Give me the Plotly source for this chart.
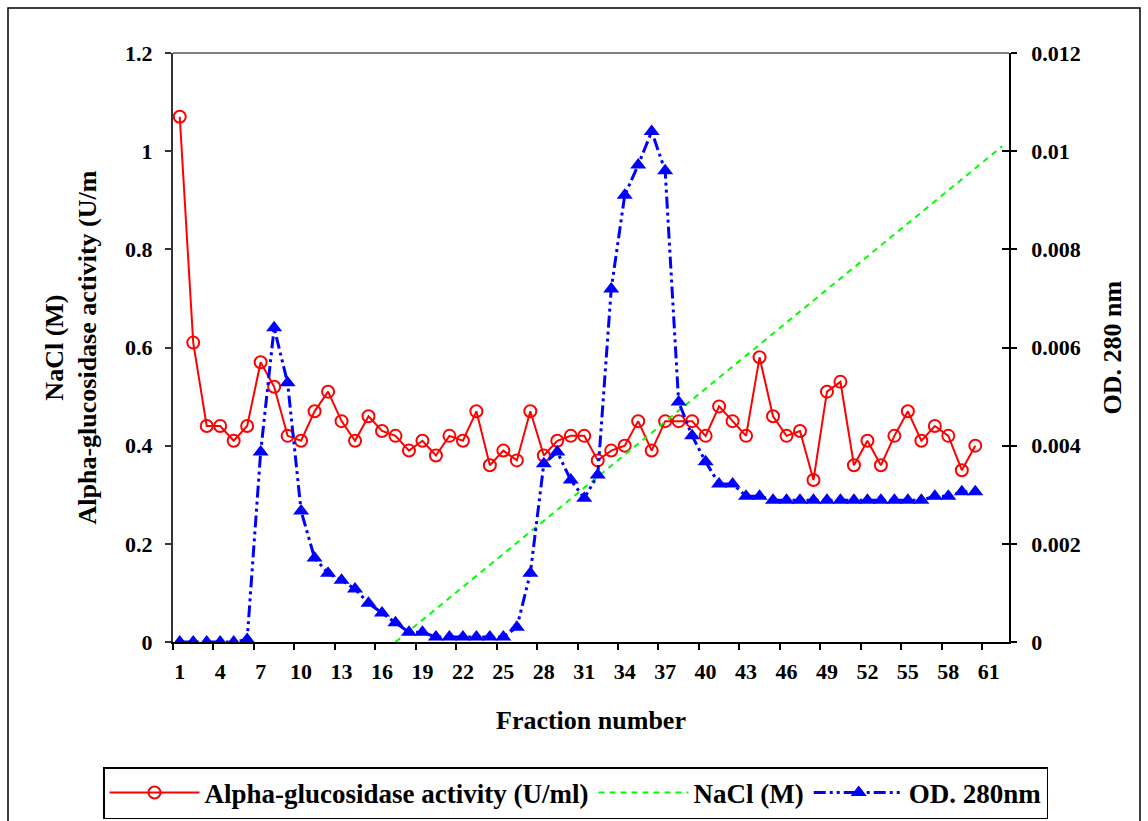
import plotly.graph_objects as go

# ---------------- data ----------------
fractions = list(range(1, 61))

alpha_glucosidase = [
    1.07, 0.61, 0.44, 0.44, 0.41, 0.44, 0.57, 0.52, 0.42, 0.41,
    0.47, 0.51, 0.45, 0.41, 0.46, 0.43, 0.42, 0.39, 0.41, 0.38,
    0.42, 0.41, 0.47, 0.36, 0.39, 0.37, 0.47, 0.38, 0.41, 0.42,
    0.42, 0.37, 0.39, 0.40, 0.45, 0.39, 0.45, 0.45, 0.45, 0.42,
    0.48, 0.45, 0.42, 0.58, 0.46, 0.42, 0.43, 0.33, 0.51, 0.53,
    0.36, 0.41, 0.36, 0.42, 0.47, 0.41, 0.44, 0.42, 0.35, 0.40,
]

od280 = [
    0.0, 0.0, 0.0, 0.0, 0.0, 0.00005, 0.00387, 0.0064, 0.00528, 0.00267,
    0.00171, 0.0014, 0.00126, 0.00108, 0.00079, 0.00059, 0.00039, 0.0002, 0.0002, 0.0001,
    0.0001, 0.0001, 0.0001, 0.0001, 0.0001, 0.0003, 0.0014, 0.00363, 0.00387, 0.0033,
    0.00293, 0.0034, 0.00719, 0.0091, 0.00972, 0.0104, 0.0096, 0.00489, 0.0042, 0.00367,
    0.00322, 0.00322, 0.00297, 0.00297, 0.00289, 0.00289, 0.00289, 0.00289, 0.00289, 0.00289,
    0.00289, 0.00289, 0.00289, 0.00289, 0.00289, 0.00289, 0.00297, 0.00297, 0.00306, 0.00306,
]

nacl_fraction = [17, 62]
nacl_molar = [0.0, 1.01]

x_tick_labels = [str(v) for v in range(1, 62, 3)]
y_left_ticks = [0, 0.2, 0.4, 0.6, 0.8, 1.0, 1.2]
y_left_labels = ["0", "0.2", "0.4", "0.6", "0.8", "1", "1.2"]
y_right_ticks = [0, 0.002, 0.004, 0.006, 0.008, 0.010, 0.012]
y_right_labels = ["0", "0.002", "0.004", "0.006", "0.008", "0.01", "0.012"]

# ---------------- figure ----------------
W, H = 1148, 821
L, R, T, B = 173, 1009, 53, 642
FONT = "Times New Roman, Liberation Serif, serif"

def px_x(p):
    return (p - L) / (R - L)

def px_y(p):
    return (B - p) / (B - T)

fig = go.Figure()

fig.add_trace(go.Scatter(
    x=fractions, y=alpha_glucosidase, name="Alpha-glucosidase activity (U/ml)",
    mode="lines+markers",
    line=dict(color="#FF0000", width=2),
    marker=dict(symbol="circle-open", size=12, color="#FF0000", line=dict(width=2, color="#FF0000")),
    yaxis="y", xaxis="x",
))
fig.add_trace(go.Scatter(
    x=nacl_fraction, y=nacl_molar, name="NaCl (M)",
    mode="lines",
    line=dict(color="#00FF00", width=2, dash="6px,5px"),
    yaxis="y", xaxis="x",
))
fig.add_trace(go.Scatter(
    x=fractions, y=od280, name="OD. 280nm",
    mode="lines+markers",
    line=dict(color="#0000FF", width=3, dash="12px,4px,3px,4px,3px,4px"),
    marker=dict(symbol="triangle-up", size=14, color="#0000FF"),
    yaxis="y2", xaxis="x",
))
# invisible helper trace for the inside-tick overlay axis
fig.add_trace(go.Scatter(
    x=[fractions[0]], y=[0], mode="markers", marker=dict(opacity=0),
    showlegend=False, hoverinfo="skip", yaxis="y3", xaxis="x",
))

tickfont = dict(family=FONT, size=22, color="black", weight="bold")
titlefont = dict(family=FONT, size=26, color="black", weight="bold")

fig.update_layout(
    width=W, height=H,
    margin=dict(l=L, r=W - R, t=T, b=H - B, pad=0, autoexpand=False),
    paper_bgcolor="white", plot_bgcolor="white",
    showlegend=True,
    xaxis=dict(
        range=[0.5, 62.5], tickmode="array",
        tickvals=[int(v) for v in x_tick_labels], ticktext=x_tick_labels,
        ticks="outside", ticklen=6, tickcolor="rgba(0,0,0,0)",
        minor=dict(ticks="outside", ticklen=6, tickcolor="black", tickwidth=1.5,
                   tickmode="linear", tick0=0.5, dtick=3),
        showline=True, linecolor="black", linewidth=2,
        showgrid=False, zeroline=False, tickfont=tickfont,
        ticklabelstandoff=3,
    ),
    yaxis=dict(
        range=[0, 1.2], tickmode="array", tickvals=y_left_ticks, ticktext=y_left_labels,
        ticks="outside", ticklen=6, tickcolor="#333333", tickwidth=1.5,
        showline=True, linecolor="#333333", linewidth=2,
        showgrid=False, zeroline=False, tickfont=tickfont, ticklabelstandoff=8,
    ),
    yaxis2=dict(
        range=[0, 0.012], tickmode="array", tickvals=y_right_ticks, ticktext=y_right_labels,
        overlaying="y", side="right",
        ticks="outside", ticklen=6, tickcolor="black", tickwidth=1.5,
        showline=True, linecolor="black", linewidth=1.5,
        showgrid=False, zeroline=False, tickfont=tickfont, ticklabelstandoff=10,
    ),
    yaxis3=dict(
        range=[0, 0.012], tickmode="array", tickvals=y_right_ticks,
        overlaying="y", side="right", showticklabels=False,
        ticks="inside", ticklen=7, tickcolor="black", tickwidth=1.5,
        showline=False, showgrid=False, zeroline=False,
    ),
    legend=dict(
        orientation="h", xref="paper", yref="paper",
        x=px_x(103), xanchor="left", y=px_y(767), yanchor="top",
        bordercolor="black", borderwidth=1.5, bgcolor="white",
        font=dict(family=FONT, size=27, color="black", weight="bold"),
        itemwidth=90, traceorder="normal",
    ),
)

# axis titles as annotations
fig.add_annotation(
    text="NaCl (M)<br>Alpha-glucosidase activity (U/m", xref="paper", yref="paper",
    x=px_x(71), y=0.5, textangle=-90, showarrow=False, font=titlefont,
    xanchor="center", yanchor="middle",
)
fig.add_annotation(
    text="OD. 280 nm", xref="paper", yref="paper",
    x=px_x(1112), y=0.5, textangle=-90, showarrow=False, font=titlefont,
    xanchor="center", yanchor="middle",
)
fig.add_annotation(
    text="Fraction number", xref="paper", yref="paper",
    x=0.5, y=px_y(720), showarrow=False, font=titlefont,
    xanchor="center", yanchor="middle",
)

# top frame line of plot area (gray)
fig.add_shape(type="line", xref="paper", yref="paper", x0=0, x1=1, y0=1, y1=1,
              line=dict(color="#808080", width=2))
# outer chart border
fig.add_shape(type="rect", xref="paper", yref="paper",
              x0=px_x(8), x1=px_x(1140), y0=px_y(835), y1=px_y(8),
              line=dict(color="black", width=1.5), fillcolor="rgba(0,0,0,0)", layer="below")

fig.write_html("out.html")
